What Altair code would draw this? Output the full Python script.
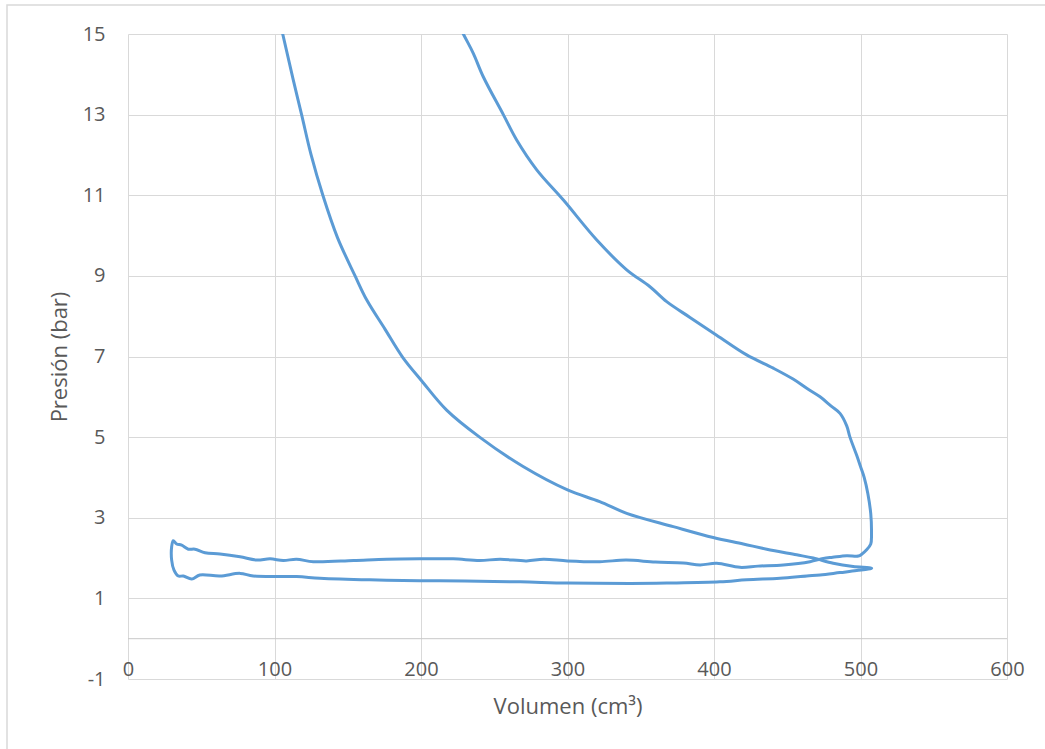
import altair as alt
import pandas as pd

# Ciclo P-V (orden de recorrido)
volumen = [
    211, 228.9, 235.7, 242.5, 256.2, 265.3, 279, 297.2, 320, 340.4, 356.3, 367.7,
    383.6, 401.8, 422.3, 440.5, 454, 463.3, 472.4, 480, 486, 490.6, 492.8, 497.4,
    500, 502.5, 505, 507, 507.5, 507, 504, 501, 498.5, 490.6, 481, 474.6, 465.5,
    447.3, 430, 417.7, 401.8, 390.5, 379, 360, 340, 322, 300, 283.6, 272, 254,
    240, 222, 199, 176.6, 154, 126.5, 115, 106, 97, 87.8, 76.5, 62.8, 52.6, 45.7,
    41.2, 36.6, 33.2, 30.9, 29.8, 29.8, 31.4, 34.3, 37.8, 43.5, 49, 62.8, 76.5,
    85.5, 115, 131, 165, 199, 230, 267.6, 300, 342.7, 367.7, 404, 422.3, 445,
    463.3, 472.4, 486, 497.4, 507.6,
    495, 481.4, 467.8, 456.4, 436, 420, 399.5, 372.2, 340.4, 322, 300, 269.7,
    240, 217.5, 200.4, 187.5, 175.4, 163, 155, 143, 133, 125, 118.5, 112.8, 105.6, 96,
]
presion = [
    16.3, 15.0, 14.52, 13.94, 13.0, 12.37, 11.63, 10.88, 9.89, 9.15, 8.73, 8.36,
    7.97, 7.53, 7.04, 6.71, 6.44, 6.21, 6.0, 5.77, 5.59, 5.28, 5.0, 4.55,
    4.27, 4.0, 3.6, 3.1, 2.6, 2.35, 2.2, 2.1, 2.05, 2.06, 2.02, 1.99, 1.91,
    1.83, 1.80, 1.77, 1.87, 1.83, 1.88, 1.90, 1.95, 1.91, 1.93, 1.97, 1.93, 1.97,
    1.94, 1.98, 1.98, 1.97, 1.94, 1.91, 1.97, 1.94, 1.98, 1.95, 2.03, 2.10, 2.13, 2.22,
    2.22, 2.32, 2.35, 2.43, 2.28, 1.95, 1.70, 1.555, 1.555, 1.48, 1.58, 1.555, 1.62,
    1.555, 1.54, 1.50, 1.46, 1.44, 1.43, 1.41, 1.38, 1.37, 1.38, 1.41, 1.46, 1.50,
    1.555, 1.58, 1.64, 1.69, 1.75,
    1.79, 1.87, 2.0, 2.08, 2.22, 2.35, 2.51, 2.78, 3.11, 3.40, 3.69, 4.27,
    5.0, 5.67, 6.4, 6.98, 7.68, 8.4, 9.0, 9.95, 11.0, 12.0, 13.0, 13.86, 15.0, 16.5,
]
x_ticks = [0, 100, 200, 300, 400, 500, 600]
y_ticks = [-1, 1, 3, 5, 7, 9, 11, 13, 15]

df = pd.DataFrame({"volumen": volumen, "presion": presion,
                   "orden": list(range(len(volumen)))})

FONT = "Open Sans"
TXT = "#595959"
GRID = "#d9d9d9"
W, H = 879, 645
PL, PT = 128, 34
LBL = 20
TTL = 22

xs = alt.Scale(domain=[0, 600], nice=False, zero=False)
ys = alt.Scale(domain=[-1, 15], nice=False, zero=False)

line = alt.Chart(df).mark_line(color="#5b9bd5", strokeWidth=3, clip=True,
                               interpolate="catmull-rom").encode(
    x=alt.X("volumen:Q", scale=xs,
            axis=alt.Axis(values=x_ticks, title="Volumen (cm³)", grid=True,
                          gridColor=GRID, domain=False, ticks=False,
                          labelPadding=-10, labelBaseline="middle", labelFlush=False,
                          labelExpr="'' + datum.value",
                          labelFont=FONT, labelFontSize=LBL, labelColor=TXT,
                          titleFont=FONT, titleFontSize=TTL, titleColor=TXT,
                          titleFontWeight="normal", titleY=27, titleBaseline="middle")),
    y=alt.Y("presion:Q", scale=ys,
            axis=alt.Axis(values=y_ticks, title="Presión (bar)", grid=True,
                          gridColor=GRID, domain=False, ticks=False,
                          labelPadding=23, labelFlush=False,
                          labelExpr="'' + datum.value",
                          labelFont=FONT, labelFontSize=LBL,
                          labelColor=TXT, titleFont=FONT, titleFontSize=TTL,
                          titleColor=TXT, titleFontWeight="normal",
                          titleX=-69, titleY=H / 2, titleBaseline="middle")),
    order="orden:Q",
)

zero = alt.Chart(pd.DataFrame({"y": [0]})).mark_rule(color="#c8c8c8", strokeWidth=1).encode(
    y=alt.Y("y:Q", scale=ys)
)

border = alt.Chart(pd.DataFrame({"a": [0]})).mark_rect(
    fillOpacity=0, stroke=GRID, strokeWidth=1.5
).encode(
    x=alt.value(7 - PL), x2=alt.value(1045 - PL + 10),
    y=alt.value(5 - PT), y2=alt.value(749 - PT + 10),
)

chart = alt.layer(zero, line, border).properties(
    width=W, height=H,
    autosize=alt.AutoSizeParams(type="none"),
    padding={"left": PL, "top": PT, "right": 1045 - PL - W, "bottom": 749 - PT - H},
).configure_view(stroke=None)

chart.save("out.html", embed_options={"renderer": "svg", "actions": False})
